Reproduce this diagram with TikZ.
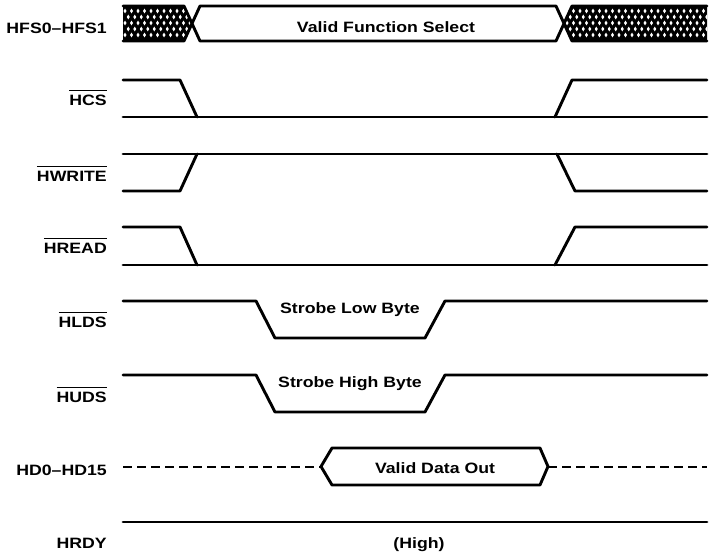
\documentclass[tikz,border=0pt]{standalone}
\usepackage{fontspec}
\setmainfont{Liberation Sans}[FakeStretch=1.18]
\newcommand\ovl[1]{\leavevmode\vbox{\hrule height 1.6pt\kern 3.2pt\hbox{#1}}}
\begin{document}
\begin{tikzpicture}[x=1pt,y=-1pt,
  sig/.style={line width=2.9pt, line cap=round, line join=round},
  dsh/.style={line width=2pt, dash pattern=on 9pt off 5pt},
  lbl/.style={anchor=base east, inner sep=0pt, font=\fontsize{15}{18}\selectfont\bfseries},
  txt/.style={anchor=base, inner sep=0pt, font=\fontsize{15}{18}\selectfont\bfseries}]
\useasboundingbox (0,0) rectangle (710,554);

% ---------- HFS0-HFS1 bus ----------
\coordinate (f1) at (192,23.5);
\coordinate (f2) at (564,23.5);
\begin{scope}
  \clip (123,6) -- (184,6) -- (f1) -- (184,41) -- (123,41) -- cycle
        (707,6) -- (572,6) -- (f2) -- (572,41) -- (707,41) -- cycle;
  \fill[black] (120,3) rectangle (710,44);
  \foreach \r in {0,...,4}{
    \foreach \c in {0,...,90}{
      \pgfmathsetmacro\xx{125+\c*6.5+mod(\r,2)*3.25}
      \pgfmathsetmacro\yy{11+\r*6}
      \fill[white] (\xx,\yy-2.4) -- (\xx+1.5,\yy) -- (\xx,\yy+2.4) -- (\xx-1.5,\yy) -- cycle;
    }
  }
\end{scope}
\draw[sig] (123,6) -- (184,6) -- (f1) -- (184,41) -- (123,41);
\draw[sig] (707,6) -- (572,6) -- (f2) -- (572,41) -- (707,41);
\draw[sig] (f1) -- (200,6) -- (556,6) -- (f2) -- (556,41) -- (200,41) -- cycle;
\node[txt] (vfs) at (386,32) {Valid Function Select};

% ---------- HCS ----------
\draw[sig] (123,80) -- (180,80) -- (197,117);
\draw[sig] (123,117) -- (707,117);
\draw[sig] (555,117) -- (572,80) -- (707,80);

% ---------- HWRITE ----------
\draw[sig] (123,154) -- (707,154);
\draw[sig] (123,191) -- (180,191) -- (197,154);
\draw[sig] (557,154) -- (575,191) -- (707,191);

% ---------- HREAD ----------
\draw[sig] (123,227) -- (180,227) -- (197,265);
\draw[sig] (123,265) -- (707,265);
\draw[sig] (555,265) -- (575,227) -- (707,227);

% ---------- HLDS ----------
\draw[sig] (123,301) -- (256,301) -- (275,338) -- (425,338) -- (445,301) -- (707,301);
\node[txt] (slb) at (350,313) {Strobe Low Byte};

% ---------- HUDS ----------
\draw[sig] (123,375) -- (256,375) -- (275,412) -- (425,412) -- (445,375) -- (707,375);
\node[txt] (shb) at (350,387) {Strobe High Byte};

% ---------- HD0-HD15 ----------
\coordinate (d1) at (321,466.5);
\coordinate (d2) at (548,466.5);
\draw[dsh] (123,466.5) -- (d1);
\draw[dsh] (d2) -- (707,466.5);
\draw[sig] (d1) -- (332,448) -- (540,448) -- (d2) -- (540,485) -- (332,485) -- cycle;
\node[txt] (vdo) at (435,473) {Valid Data Out};

% ---------- HRDY ----------
\draw[sig] (123,522) -- (707,522);
\node[txt] (high) at (419,548) {(High)};

% ---------- labels ----------
\node[lbl] (lhfs) at (107,33) {HFS0--HFS1};
\node[lbl] (lhcs) at (107,105) {\ovl{HCS}};
\node[lbl] (lhwr) at (107,181) {\ovl{HWRITE}};
\node[lbl] (lhrd) at (107,253) {\ovl{HREAD}};
\node[lbl] (lhld) at (107,327) {\ovl{HLDS}};
\node[lbl] (lhud) at (107,402) {\ovl{HUDS}};
\node[lbl] (lhd) at (107,475) {HD0--HD15};
\node[lbl] (lhr) at (107,548) {HRDY};
\end{tikzpicture}
\end{document}
